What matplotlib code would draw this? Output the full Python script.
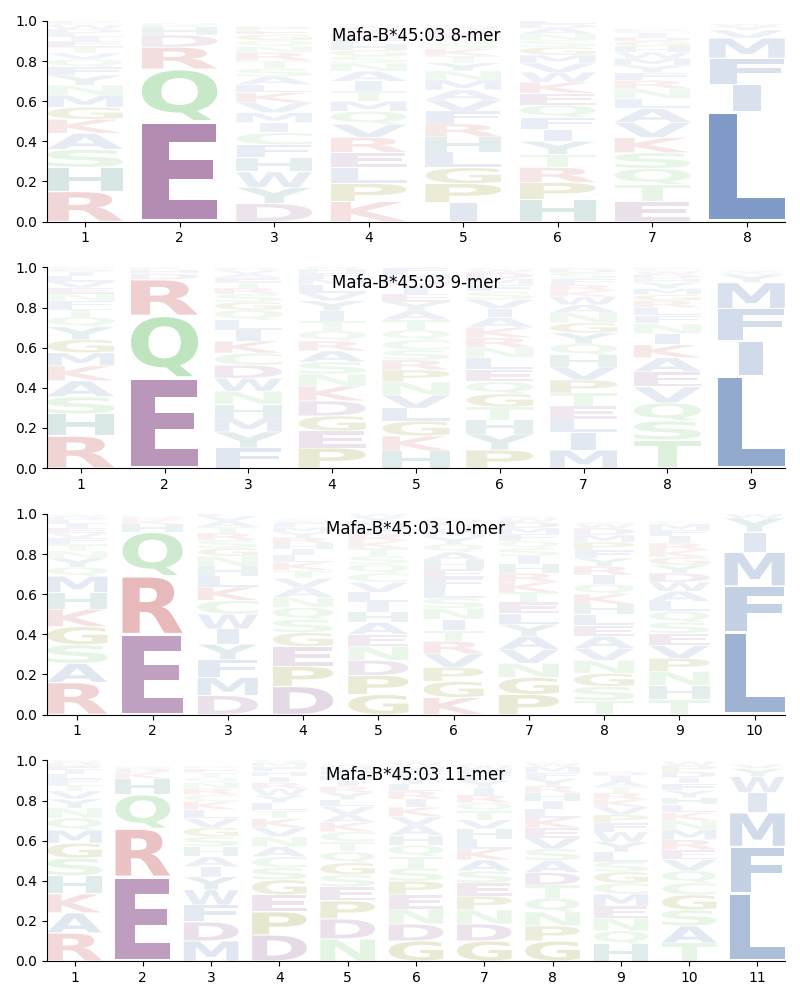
import numpy as np
import matplotlib
matplotlib.use('Agg')
import matplotlib.pyplot as plt
from matplotlib.textpath import TextPath
from matplotlib.patches import PathPatch
from matplotlib.font_manager import FontProperties
from matplotlib.transforms import Affine2D

allele = 'Mafa-B*45:03'
lengths = [8, 9, 10, 11]

# letter heights per position (stacked small on top)
logo_8mer = [
    {'R': .15, 'H': .12, 'S': .09, 'A': .08, 'K': .07, 'G': .06, 'M': .06, 'N': .05, 'Y': .05, 'F': .04,
     'Q': .04, 'V': .03, 'T': .03, 'E': .03, 'I': .02, 'L': .02, 'D': .02, 'W': .02, 'C': .01, 'P': .01},
    {'E': .50, 'Q': .26, 'R': .11, 'D': .06, 'H': .04, 'K': .01, 'N': .01},
    {'D': .09, 'Y': .08, 'W': .078, 'H': .07, 'F': .065, 'C': .06, 'I': .05, 'M': .05, 'V': .05, 'K': .05,
     'L': .04, 'A': .04, 'S': .04, 'T': .04, 'R': .04, 'N': .03, 'Q': .03, 'G': .03, 'E': .02, 'P': .02},
    {'K': .10, 'P': .09, 'L': .08, 'E': .075, 'R': .075, 'V': .065, 'Q': .065, 'M': .05, 'T': .05, 'I': .05,
     'A': .05, 'N': .04, 'S': .035, 'G': .03, 'H': .03, 'F': .03, 'D': .025, 'Y': .02, 'W': .015, 'C': .01},
    {'I': .095, 'P': .094, 'G': .08, 'L': .078, 'H': .075, 'R': .065, 'F': .064, 'V': .055, 'A': .05, 'M': .05,
     'N': .045, 'Y': .04, 'T': .035, 'K': .035, 'S': .03, 'Q': .025, 'E': .02, 'D': .02, 'W': .015, 'C': .01},
    {'H': .11, 'P': .085, 'R': .075, 'T': .065, 'Y': .065, 'I': .06, 'F': .06, 'Q': .06, 'E': .06, 'K': .055,
     'W': .05, 'V': .045, 'M': .04, 'G': .04, 'S': .035, 'N': .03, 'A': .03, 'D': .02, 'L': .02, 'C': .01},
    {'E': .10, 'T': .085, 'Q': .08, 'S': .078, 'K': .076, 'V': .075, 'A': .07, 'L': .05, 'N': .05, 'R': .04,
     'F': .04, 'Y': .035, 'M': .035, 'W': .03, 'H': .03, 'G': .025, 'D': .02, 'I': .02, 'C': .01, 'P': .01},
    {'L': .55, 'I': .135, 'F': .13, 'M': .10, 'V': .04, 'Y': .02, 'W': .01},
]

logo_9mer = [
    {'R': .16, 'H': .11, 'S': .085, 'A': .08, 'K': .075, 'M': .065, 'G': .065, 'Y': .064, 'Q': .05, 'T': .04,
     'F': .04, 'N': .035, 'E': .03, 'V': .03, 'L': .03, 'I': .02, 'D': .01, 'W': .005, 'C': .005, 'P': .005},
    {'E': .45, 'Q': .31, 'R': .18, 'D': .03, 'H': .02, 'K': .01},
    {'F': .10, 'Y': .08, 'M': .07, 'H': .068, 'N': .065, 'W': .065, 'D': .065, 'C': .06, 'I': .055, 'K': .06,
     'L': .05, 'Q': .05, 'G': .04, 'S': .04, 'R': .03, 'T': .03, 'E': .02, 'A': .02, 'V': .02, 'P': .01},
    {'P': .10, 'E': .085, 'G': .075, 'D': .075, 'K': .074, 'N': .06, 'S': .06, 'A': .055, 'R': .05, 'Q': .05,
     'T': .05, 'I': .05, 'Y': .05, 'V': .04, 'L': .04, 'M': .03, 'F': .03, 'H': .02, 'W': .015, 'C': .01},
    {'H': .085, 'K': .075, 'G': .074, 'L': .065, 'V': .065, 'N': .065, 'P': .06, 'R': .05, 'S': .05, 'C': .05,
     'Q': .05, 'T': .05, 'A': .045, 'Y': .045, 'E': .04, 'I': .04, 'D': .03, 'M': .03, 'F': .03, 'W': .01},
    {'P': .09, 'Y': .08, 'H': .07, 'T': .065, 'G': .065, 'Q': .06, 'E': .06, 'L': .06, 'N': .05, 'R': .05,
     'K': .05, 'A': .05, 'I': .045, 'V': .045, 'S': .04, 'F': .035, 'M': .03, 'D': .03, 'W': .015, 'C': .01},
    {'M': .09, 'I': .089, 'L': .065, 'E': .065, 'T': .065, 'P': .065, 'V': .065, 'H': .06, 'Q': .055, 'Y': .055,
     'G': .05, 'N': .05, 'A': .04, 'W': .04, 'K': .03, 'R': .03, 'F': .03, 'S': .03, 'D': .02, 'C': .01},
    {'T': .14, 'S': .095, 'Q': .09, 'V': .08, 'E': .075, 'A': .07, 'K': .065, 'I': .055, 'N': .05, 'F': .04,
     'L': .04, 'R': .035, 'G': .03, 'M': .03, 'Y': .03, 'H': .02, 'D': .02, 'W': .015, 'C': .01, 'P': .01},
    {'L': .46, 'I': .175, 'F': .16, 'M': .13, 'Y': .04, 'W': .01, 'V': .01},
]

logo_10mer = [
    {'R': .16, 'A': .095, 'S': .093, 'G': .09, 'K': .087, 'H': .083, 'M': .082, 'Q': .045, 'Y': .045, 'N': .035,
     'T': .035, 'F': .03, 'V': .025, 'E': .025, 'I': .02, 'L': .02, 'D': .015, 'W': .01, 'C': .005, 'P': .005},
    {'E': .40, 'R': .29, 'Q': .22, 'H': .04, 'K': .02, 'D': .01, 'N': .01},
    {'D': .095, 'M': .09, 'F': .088, 'Y': .078, 'I': .076, 'W': .074, 'C': .068, 'K': .066, 'L': .055, 'H': .05,
     'N': .05, 'G': .04, 'S': .04, 'R': .035, 'T': .03, 'A': .03, 'V': .025, 'E': .01, 'Q': .01, 'P': .005},
    {'D': .14, 'P': .10, 'E': .099, 'G': .07, 'S': .065, 'Q': .06, 'N': .05, 'A': .05, 'V': .045, 'T': .04,
     'K': .04, 'L': .035, 'I': .03, 'H': .03, 'R': .03, 'Y': .025, 'M': .025, 'F': .02, 'W': .01, 'C': .01},
    {'G': .10, 'P': .095, 'D': .075, 'N': .07, 'E': .06, 'A': .06, 'H': .05, 'I': .05, 'L': .05, 'V': .05,
     'C': .045, 'Q': .045, 'S': .04, 'T': .04, 'K': .035, 'R': .035, 'F': .03, 'M': .03, 'Y': .025, 'W': .015},
    {'K': .085, 'G': .08, 'P': .07, 'V': .068, 'R': .062, 'T': .055, 'I': .055, 'N': .055, 'S': .05, 'L': .05,
     'F': .05, 'E': .045, 'H': .045, 'A': .04, 'Q': .04, 'Y': .035, 'M': .035, 'D': .03, 'W': .02, 'C': .01},
    {'P': .10, 'G': .085, 'N': .07, 'V': .07, 'A': .065, 'Y': .06, 'L': .055, 'E': .055, 'T': .05, 'K': .05,
     'R': .045, 'H': .045, 'I': .04, 'S': .04, 'Q': .035, 'F': .035, 'M': .03, 'D': .03, 'W': .02, 'C': .01},
    {'T': .07, 'S': .07, 'G': .065, 'N': .065, 'V': .06, 'A': .06, 'E': .055, 'L': .055, 'H': .05, 'K': .05,
     'Q': .05, 'I': .045, 'R': .045, 'Y': .04, 'F': .04, 'P': .04, 'M': .035, 'D': .035, 'W': .02, 'C': .01},
    {'T': .075, 'H': .07, 'N': .07, 'P': .065, 'V': .065, 'E': .06, 'S': .055, 'Q': .055, 'L': .05, 'A': .05,
     'W': .045, 'D': .045, 'Y': .04, 'G': .04, 'K': .035, 'R': .035, 'I': .035, 'F': .03, 'M': .03, 'C': .015},
    {'L': .41, 'F': .23, 'M': .17, 'I': .10, 'Y': .07, 'W': .02, 'V': .01},
]

logo_11mer = [
    {'R': .14, 'A': .10, 'K': .095, 'H': .09, 'S': .088, 'G': .075, 'M': .065, 'Q': .06, 'N': .05, 'Y': .045,
     'V': .04, 'T': .03, 'F': .03, 'L': .025, 'I': .02, 'E': .02, 'D': .015, 'W': .01, 'C': .005, 'P': .005},
    {'E': .42, 'R': .24, 'Q': .17, 'H': .08, 'K': .03, 'D': .02, 'N': .01},
    {'M': .10, 'D': .095, 'F': .085, 'W': .075, 'Y': .065, 'I': .05, 'A': .05, 'H': .05, 'S': .05, 'G': .045,
     'V': .045, 'L': .045, 'K': .04, 'C': .035, 'R': .03, 'N': .03, 'Q': .025, 'T': .025, 'E': .02, 'P': .01},
    {'D': .13, 'P': .115, 'E': .085, 'G': .075, 'S': .06, 'C': .055, 'A': .05, 'N': .05, 'V': .045, 'K': .045,
     'T': .04, 'L': .04, 'Y': .035, 'W': .035, 'R': .03, 'I': .03, 'H': .025, 'F': .025, 'M': .02, 'Q': .015},
    {'N': .11, 'D': .10, 'P': .09, 'E': .07, 'S': .06, 'G': .06, 'Q': .055, 'T': .05, 'C': .05, 'K': .045,
     'A': .04, 'V': .04, 'L': .035, 'Y': .035, 'R': .03, 'I': .03, 'H': .025, 'F': .025, 'M': .02, 'W': .01},
    {'G': .10, 'D': .085, 'N': .075, 'E': .07, 'P': .068, 'S': .066, 'T': .058, 'Q': .055, 'H': .05, 'A': .05,
     'V': .045, 'K': .045, 'I': .04, 'R': .04, 'L': .035, 'Y': .035, 'F': .03, 'M': .025, 'W': .02, 'C': .01},
    {'G': .10, 'D': .085, 'N': .07, 'P': .068, 'E': .066, 'S': .06, 'A': .055, 'K': .055, 'L': .05, 'H': .05,
     'V': .045, 'T': .045, 'Q': .04, 'R': .04, 'I': .035, 'Y': .035, 'F': .03, 'M': .025, 'W': .02, 'C': .01},
    {'G': .10, 'P': .075, 'N': .07, 'Q': .068, 'T': .066, 'D': .062, 'A': .06, 'S': .058, 'V': .055, 'E': .05,
     'K': .05, 'L': .045, 'I': .04, 'H': .04, 'R': .035, 'Y': .035, 'F': .03, 'M': .03, 'W': .015, 'C': .01},
    {'H': .085, 'Q': .065, 'N': .064, 'E': .06, 'M': .06, 'C': .055, 'G': .055, 'S': .05, 'L': .05, 'Y': .05,
     'W': .05, 'F': .045, 'P': .04, 'V': .04, 'K': .035, 'R': .035, 'T': .03, 'A': .03, 'I': .025, 'D': .02},
    {'T': .09, 'A': .085, 'S': .08, 'G': .075, 'C': .06, 'Q': .06, 'V': .055, 'E': .05, 'R': .05, 'M': .05,
     'N': .045, 'K': .04, 'L': .04, 'H': .035, 'Y': .035, 'F': .035, 'I': .03, 'D': .03, 'P': .03, 'W': .02},
    {'L': .34, 'F': .23, 'M': .17, 'I': .10, 'W': .08, 'Y': .04, 'V': .02},
]

logos = [logo_8mer, logo_9mer, logo_10mer, logo_11mer]

# colour per residue group
colors = {}
for aa in 'DE':
    colors[aa] = '#8a4e8a'
for aa in 'KR':
    colors[aa] = '#c44e52'
for aa in 'HY':
    colors[aa] = '#3a8080'
for aa in 'AVLIMFW':
    colors[aa] = '#4c72b0'
for aa in 'STNQC':
    colors[aa] = '#66c266'
for aa in 'PG':
    colors[aa] = '#808000'

fp = FontProperties(family='DejaVu Sans', weight='bold')
glyph_width = 0.8
vpad = 0.05

e_box = TextPath((0, 0), 'E', size=1, prop=fp).get_extents()
max_stretch = glyph_width / e_box.width


def draw_letter(ax, ch, x, floor, h, color, alpha):
    path = TextPath((0, 0), ch, size=1, prop=fp)
    bb = path.get_extents()
    hs = min(glyph_width / bb.width, max_stretch)
    vs = h * (1 - vpad) / bb.height
    tr = Affine2D().translate(-bb.x0 - bb.width / 2, -bb.y0).scale(hs, vs).translate(x, floor + h * vpad / 2)
    patch = PathPatch(tr.transform_path(path), facecolor=color, edgecolor='none', alpha=alpha)
    ax.add_patch(patch)


fig = plt.figure(figsize=(8, 10), dpi=100)
axes = fig.subplots(4, 1)
fig.subplots_adjust(left=0.059, right=0.981, top=0.979, bottom=0.039, hspace=0.229)

for ax, n, logo in zip(axes, lengths, logos):
    for i, col in enumerate(logo):
        floor = 0.0
        for ch, h in sorted(col.items(), key=lambda kv: -kv[1]):
            alpha = min(1.0, 0.05 + 1.2 * h)
            draw_letter(ax, ch, i, floor, h, colors[ch], alpha)
            floor += h
    ax.set_xlim(-0.4, n - 0.6)
    ax.set_ylim(0, 1)
    ax.set_xticks(range(n))
    ax.set_xticklabels([str(k + 1) for k in range(n)])
    ax.set_yticks(np.arange(0, 1.01, 0.2))
    ax.spines['top'].set_visible(False)
    ax.spines['right'].set_visible(False)
    ax.text(0.5, 0.925, f'{allele} {n}-mer', transform=ax.transAxes,
            ha='center', va='center', fontsize=12)

fig.savefig('out.png', dpi=100)
